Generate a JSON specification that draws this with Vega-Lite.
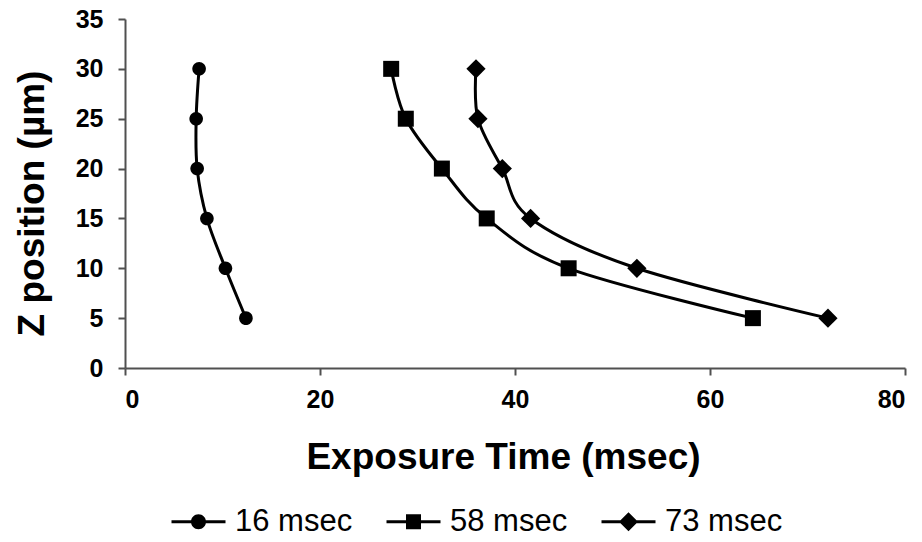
{
  "$schema": "https://vega.github.io/schema/vega-lite/v6.json",
  "width": 780,
  "height": 349,
  "autosize": "none",
  "padding": {"left": 125, "top": 19, "right": 17, "bottom": 174},
  "background": "white",
  "config": {
    "view": {"stroke": null},
    "font": "Liberation Sans"
  },
  "data": {
    "values": [
      {"series": "16 msec", "time": 12.4, "z": 5},
      {"series": "16 msec", "time": 10.3, "z": 10},
      {"series": "16 msec", "time": 8.4, "z": 15},
      {"series": "16 msec", "time": 7.4, "z": 20},
      {"series": "16 msec", "time": 7.3, "z": 25},
      {"series": "16 msec", "time": 7.6, "z": 30},
      {"series": "58 msec", "time": 64.4, "z": 5},
      {"series": "58 msec", "time": 45.5, "z": 10},
      {"series": "58 msec", "time": 37.1, "z": 15},
      {"series": "58 msec", "time": 32.5, "z": 20},
      {"series": "58 msec", "time": 28.8, "z": 25},
      {"series": "58 msec", "time": 27.3, "z": 30},
      {"series": "73 msec", "time": 72.1, "z": 5},
      {"series": "73 msec", "time": 52.5, "z": 10},
      {"series": "73 msec", "time": 41.6, "z": 15},
      {"series": "73 msec", "time": 38.7, "z": 20},
      {"series": "73 msec", "time": 36.2, "z": 25},
      {"series": "73 msec", "time": 36.0, "z": 30}
    ]
  },
  "encoding": {
    "x": {
      "field": "time",
      "type": "quantitative",
      "scale": {"domain": [0, 80], "nice": false, "zero": false},
      "axis": {
        "values": [0, 20, 40, 60, 80],
        "grid": false,
        "domainColor": "#505050",
        "domainWidth": 2,
        "tickColor": "#505050",
        "tickWidth": 2,
        "tickSize": 7,
        "labelFontSize": 25,
        "labelFontWeight": "bold",
        "labelColor": "black",
        "labelPadding": 12,
        "title": "Exposure Time (msec)",
        "titleFontSize": 37,
        "titleFontWeight": "bold",
        "titleColor": "black",
        "titleX": 378,
        "titleY": 100,
        "titleAlign": "center",
        "titleBaseline": "alphabetic"
      }
    },
    "y": {
      "field": "z",
      "type": "quantitative",
      "scale": {"domain": [0, 35], "nice": false, "zero": false},
      "axis": {
        "values": [0, 5, 10, 15, 20, 25, 30, 35],
        "grid": false,
        "domainColor": "#505050",
        "domainWidth": 2,
        "tickColor": "#505050",
        "tickWidth": 2,
        "tickSize": 7,
        "labelFontSize": 25,
        "labelFontWeight": "bold",
        "labelColor": "black",
        "labelPadding": 15,
        "title": "Z position (µm)",
        "titleFontSize": 37,
        "titleFontWeight": "bold",
        "titleColor": "black",
        "titleAngle": -90,
        "titleX": -93,
        "titleY": 184,
        "titleAlign": "center",
        "titleBaseline": "middle"
      }
    }
  },
  "resolve": {"scale": {"shape": "independent"}, "legend": {"shape": "independent"}},
  "layer": [
    {
      "mark": {"type": "line", "interpolate": "cardinal", "color": "black", "strokeWidth": 3},
      "encoding": {
        "detail": {"field": "series"},
        "order": {"field": "z", "type": "quantitative"}
      }
    },
    {
      "mark": {"type": "point", "filled": true, "opacity": 0, "color": "black", "size": 100},
      "encoding": {
        "shape": {
          "field": "series",
          "type": "nominal",
          "scale": {
            "range": [
              "M-2.7,-0.15H2.7V0.15H-2.7Z M0,-0.75A0.75,0.75 0 1,1 0,0.75A0.75,0.75 0 1,1 0,-0.75Z",
              "M-2.7,-0.15H2.7V0.15H-2.7Z M-0.75,-0.75H0.75V0.75H-0.75Z",
              "M-2.7,-0.15H2.7V0.15H-2.7Z M0,-0.95L0.95,0L0,0.95L-0.95,0Z"
            ]
          },
          "legend": {
            "title": null,
            "orient": "none",
            "direction": "horizontal",
            "legendX": 58,
            "legendY": 487,
            "symbolSize": 400,
            "symbolFillColor": "black",
            "symbolStrokeColor": "black",
            "symbolStrokeWidth": 0,
            "symbolOpacity": 1,
            "labelFontSize": 31,
            "labelColor": "black",
            "labelOffset": 21,
            "columnPadding": 33,
            "labelLimit": 300
          }
        }
      }
    },
    {
      "mark": {"type": "point", "filled": true, "opacity": 1, "color": "black", "size": 64},
      "encoding": {
        "shape": {
          "field": "series",
          "type": "nominal",
          "scale": {
            "range": [
              "M0,-1.7A1.7,1.7 0 1,1 0,1.7A1.7,1.7 0 1,1 0,-1.7Z",
              "M-2,-2H2V2H-2Z",
              "M0,-2.4L2.4,0L0,2.4L-2.4,0Z"
            ]
          },
          "legend": null
        }
      }
    }
  ]
}
